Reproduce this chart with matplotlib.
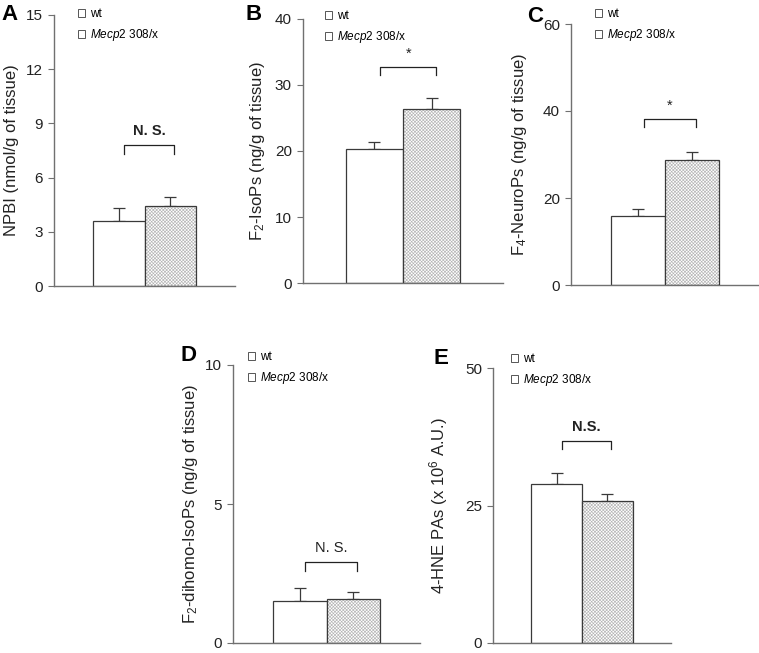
import matplotlib
matplotlib.use("Agg")
import matplotlib.pyplot as plt
from matplotlib.patches import Patch

plt.rcParams['font.family'] = ['Liberation Sans', 'DejaVu Sans']
plt.rcParams['mathtext.fontset'] = 'custom'
plt.rcParams['mathtext.rm'] = 'Liberation Sans'
plt.rcParams['mathtext.it'] = 'Liberation Sans:italic'
plt.rcParams['mathtext.bf'] = 'Liberation Sans:bold'
plt.rcParams['hatch.linewidth'] = 0.45

# ---- data ----
groups = ['wt', 'Mecp2 308/x']
panel_letters = ['A', 'B', 'C', 'D', 'E']
ylabels = ['NPBI (nmol/g of tissue)',
           r'F$_2$-IsoPs (ng/g of tissue)',
           r'F$_4$-NeuroPs (ng/g of tissue)',
           r'F$_2$-dihomo-IsoPs (ng/g of tissue)',
           r'4-HNE PAs (x 10$^6$ A.U.)']
means_wt = [3.6, 20.3, 15.9, 1.5, 29.0]
means_mut = [4.45, 26.4, 28.7, 1.57, 25.8]
sem_wt = [0.7, 1.0, 1.6, 0.47, 2.0]
sem_mut = [0.5, 1.6, 1.9, 0.25, 1.3]
yticks = [[0, 3, 6, 9, 12, 15], [0, 10, 20, 30, 40], [0, 20, 40, 60],
          [0, 5, 10], [0, 25, 50]]
sig_text = ['N. S.', '*', '*', 'N. S.', 'N.S.']
sig_bold = [True, False, False, False, True]
bracket_top = [7.8, 32.7, 38.2, 2.9, 36.8]
bracket_tip = [7.3, 31.5, 36.3, 2.6, 35.2]

# ---- layout (pixels) ----
W, H = 759, 653
rects = [(54, 235, 15, 286), (303, 503, 19, 283), (571, 759, 24, 285),
         (233, 420, 365, 643), (493, 671, 368, 643)]
label_off = [35, 36, 42, 33, 43]
letter_pos = [(9, 15), (254, 15), (535, 16), (189, 356), (441, 358)]
legend_pos = [(78, 8), (325, 10), (595, 8), (248, 351), (511, 353)]

fig = plt.figure(figsize=(W / 100, H / 100), dpi=100)
edge = '#3a3a3a'
spine_c = '#707070'
text_c = '#222222'

for i in range(5):
    l, r, t, b = rects[i]
    ax = fig.add_axes([l / W, 1 - b / H, (r - l) / W, (b - t) / H])
    x = [0, 1]
    vals = [means_wt[i], means_mut[i]]
    errs = [sem_wt[i], sem_mut[i]]
    ax.bar(x[0], vals[0], width=1.0, color='white', edgecolor=edge, linewidth=0.9, zorder=2)
    ax.bar(x[1], vals[1], width=1.0, color='white', edgecolor='#b4b4b4', hatch='x' * 10,
           linewidth=0, zorder=2)
    ax.bar(x[1], vals[1], width=1.0, color='none', edgecolor=edge, linewidth=0.9, zorder=3)
    for xi, v, e in zip(x, vals, errs):
        ax.errorbar(xi, v, yerr=[[0], [e]], fmt='none', ecolor=edge, elinewidth=0.9,
                    capsize=4, capthick=0.9, zorder=1)
    ax.set_xlim(-1.25, 2.25)
    ax.set_ylim(yticks[i][0], yticks[i][-1])
    ax.set_yticks(yticks[i])
    ax.set_xticks([])
    for s in ['top', 'right']:
        ax.spines[s].set_visible(False)
    for s in ['left', 'bottom']:
        ax.spines[s].set_color(spine_c)
        ax.spines[s].set_linewidth(1.0)
    ax.spines['left'].set_zorder(4)
    ax.tick_params(axis='y', direction='out', length=4, color=spine_c, labelsize=11,
                   pad=4, labelcolor=text_c)
    ax.set_ylabel(ylabels[i], fontsize=12, color=text_c)
    ax.yaxis.set_label_coords(-label_off[i] / (r - l), 0.5)
    # significance bracket
    bx0, bx1 = 0.1, 1.08
    ax.plot([bx0, bx0, bx1, bx1], [bracket_tip[i], bracket_top[i], bracket_top[i], bracket_tip[i]],
            color=text_c, lw=0.9, clip_on=False)
    ymax = yticks[i][-1]
    ax.text((bx0 + bx1) / 2, bracket_top[i] + ymax * 0.025, sig_text[i], ha='center', va='bottom',
            fontsize=10.5, fontweight='bold' if sig_bold[i] else 'normal', color=text_c)
    # legend
    handles = [Patch(facecolor='white', edgecolor='#555555', linewidth=0.7),
               Patch(facecolor='white', edgecolor='#555555', linewidth=0.7)]
    labels = [groups[0], r'$\it{Mecp2}$' + ' 308/x']
    lx, ly = legend_pos[i]
    ax.legend(handles, labels, loc='upper left', bbox_to_anchor=(lx / W, 1 - ly / H),
              bbox_transform=fig.transFigure, frameon=False, fontsize=8.5,
              handlelength=0.6, handleheight=0.6, handletextpad=0.4, labelspacing=0.6,
              borderpad=0, borderaxespad=0)
    fx, fy = letter_pos[i]
    fig.text(fx / W, 1 - fy / H, panel_letters[i], ha='center', va='center',
             fontsize=16, fontweight='bold', color='black')

fig.savefig('out.png', dpi=100)
